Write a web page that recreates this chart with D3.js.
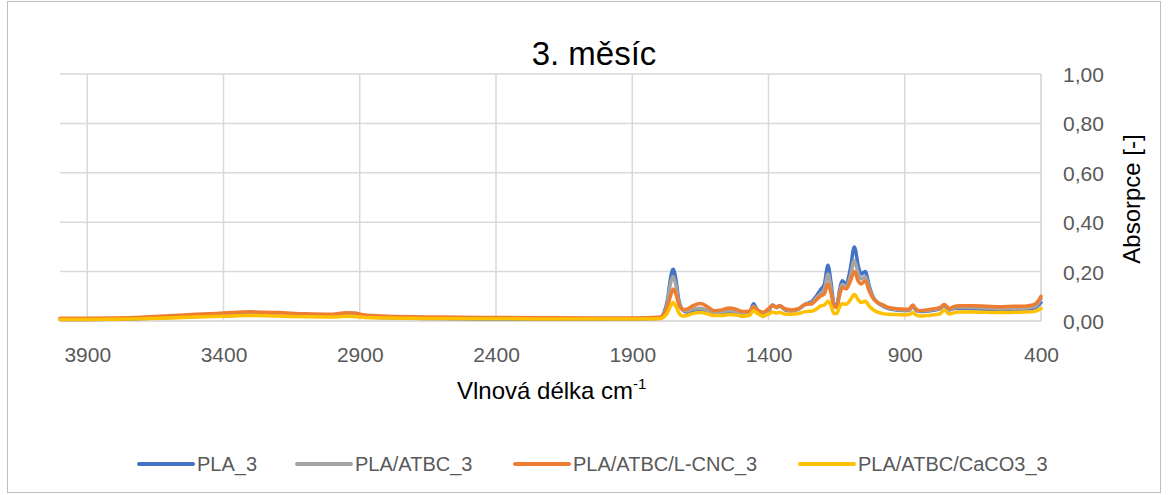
<!DOCTYPE html>
<html>
<head>
<meta charset="utf-8">
<script src="https://cdn.jsdelivr.net/npm/d3@7"></script>
<style>
  html, body { margin: 0; padding: 0; background: #fff; }
  svg { display: block; font-family: "Liberation Sans", Arial, sans-serif; }
</style>
</head>
<body>
<svg id="chart" width="1168" height="495"></svg>
<script>
// Wavenumbers (cm-1), shared by all spectra
const wavenumbers = [
  4000, 3900, 3800, 3700, 3600, 3500, 3400, 3300, 3200, 3100,
  3000, 2950, 2920, 2880, 2850, 2800, 2600, 2400, 2200, 2000,
  1900, 1800, 1785, 1770, 1760, 1750, 1740, 1730, 1715, 1700,
  1680, 1650, 1620, 1600, 1570, 1545, 1520, 1495, 1470, 1455,
  1440, 1420, 1400, 1385, 1370, 1360, 1340, 1315, 1290, 1265,
  1240, 1225, 1210, 1195, 1182, 1170, 1160, 1150, 1140, 1130,
  1115, 1100, 1085, 1070, 1060, 1045, 1030, 1015, 1000, 980,
  960, 930, 900, 885, 870, 860, 845, 820, 790, 770,
  755, 745, 735, 720, 700, 650, 600, 550, 500, 460,
  430, 415, 400
];

// Absorbance of each sample
const pla3 = [
  .006, .006, .007, .010, .014, .018, .021, .024, .023, .020,
  .019, .023, .022, .017, .015, .013, .010, .008, .007, .007,
  .008, .011, .030, .090, .170, .210, .170, .090, .045, .035,
  .038, .042, .035, .028, .030, .035, .030, .020, .030, .070,
  .040, .020, .040, .065, .055, .063, .045, .040, .048, .068,
  .080, .100, .125, .150, .226, .150, .070, .060, .120, .163,
  .150, .210, .300, .220, .190, .200, .140, .095, .075, .060,
  .050, .045, .043, .043, .060, .045, .038, .040, .044, .050,
  .063, .052, .045, .050, .052, .050, .048, .046, .047, .048,
  .050, .058, .075
];
const plaAtbc3 = [
  .008, .008, .009, .012, .017, .022, .026, .029, .027, .023,
  .022, .026, .025, .020, .018, .015, .012, .011, .010, .010,
  .010, .013, .028, .080, .150, .180, .145, .080, .045, .040,
  .048, .052, .042, .033, .036, .043, .038, .030, .034, .060,
  .042, .028, .045, .062, .054, .060, .047, .042, .048, .066,
  .074, .092, .110, .130, .190, .130, .065, .057, .110, .148,
  .140, .180, .245, .190, .170, .180, .130, .092, .075, .062,
  .052, .047, .045, .045, .062, .047, .040, .042, .047, .052,
  .065, .055, .047, .053, .056, .055, .053, .050, .051, .052,
  .056, .065, .090
];
const plaAtbcCnc3 = [
  .011, .011, .012, .015, .021, .027, .032, .037, .034, .029,
  .027, .033, .032, .024, .022, .019, .016, .014, .013, .012,
  .012, .015, .025, .060, .100, .130, .110, .070, .047, .048,
  .060, .071, .055, .042, .045, .053, .048, .038, .040, .057,
  .045, .035, .050, .063, .055, .062, .050, .045, .050, .068,
  .070, .085, .100, .110, .150, .110, .060, .055, .100, .135,
  .130, .160, .200, .160, .150, .163, .120, .090, .075, .065,
  .055, .050, .048, .048, .065, .050, .042, .045, .050, .055,
  .067, .058, .050, .058, .062, .062, .060, .058, .060, .060,
  .065, .075, .100
];
const plaAtbcCaco3 = [
  .006, .006, .007, .009, .012, .016, .019, .022, .020, .017,
  .016, .019, .018, .014, .013, .012, .010, .009, .008, .008,
  .008, .009, .015, .035, .060, .075, .060, .035, .020, .022,
  .030, .034, .028, .022, .022, .026, .024, .020, .022, .042,
  .030, .020, .028, .036, .032, .035, .028, .027, .030, .038,
  .040, .048, .060, .065, .080, .060, .030, .030, .055, .070,
  .068, .085, .107, .085, .075, .080, .060, .045, .036, .030,
  .027, .026, .025, .026, .034, .025, .020, .022, .025, .030,
  .045, .035, .028, .033, .036, .036, .035, .034, .035, .036,
  .038, .042, .050
];

const seriesNames = ["PLA_3", "PLA/ATBC_3", "PLA/ATBC/L-CNC_3", "PLA/ATBC/CaCO3_3"];
const seriesColors = ["#4472C4", "#A5A5A5", "#ED7D31", "#FFC000"];
const xTicks = [3900, 3400, 2900, 2400, 1900, 1400, 900, 400];
const yTicks = [0, 0.2, 0.4, 0.6, 0.8, 1.0];

const seriesValues = [pla3, plaAtbc3, plaAtbcCnc3, plaAtbcCaco3];
const series = seriesNames.map((name, i) => ({
  name,
  color: seriesColors[i],
  points: wavenumbers.map((w, j) => ({ w, v: seriesValues[i][j] }))
}));

const svg = d3.select("#chart");

// chart frame
svg.append("rect")
  .attr("x", 7.5).attr("y", 1.5)
  .attr("width", 1153).attr("height", 491)
  .attr("fill", "#fff").attr("stroke", "#BFBFBF").attr("stroke-width", 1);

const plot = { left: 60, right: 1041, top: 74, bottom: 321 };

const x = d3.scaleLinear().domain([4000, 400]).range([plot.left, plot.right]);
const y = d3.scaleLinear().domain([0, 1]).range([plot.bottom, plot.top]);

// gridlines
const grid = svg.append("g");
grid.selectAll("line.h")
  .data(yTicks.filter(d => d > 0))
  .join("line")
  .attr("x1", plot.left).attr("x2", plot.right)
  .attr("y1", d => y(d)).attr("y2", d => y(d))
  .attr("stroke", "#D9D9D9").attr("stroke-width", 1.5);
grid.selectAll("line.v")
  .data(xTicks.filter(d => d !== 400))
  .join("line")
  .attr("x1", d => x(d)).attr("x2", d => x(d))
  .attr("y1", plot.top).attr("y2", plot.bottom)
  .attr("stroke", "#D9D9D9").attr("stroke-width", 1.5);

// axis lines (x axis at zero, y axis on the right at 400 cm-1)
svg.append("line")
  .attr("x1", plot.left).attr("x2", plot.right)
  .attr("y1", y(0)).attr("y2", y(0))
  .attr("stroke", "#D0D0D0").attr("stroke-width", 1.5);
svg.append("line")
  .attr("x1", x(400)).attr("x2", x(400))
  .attr("y1", plot.top).attr("y2", plot.bottom)
  .attr("stroke", "#D0D0D0").attr("stroke-width", 1.5);

// spectra
const line = d3.line()
  .x(d => x(d.w))
  .y(d => y(d.v))
  .curve(d3.curveMonotoneX);

svg.append("g")
  .selectAll("path")
  .data(series)
  .join("path")
  .attr("d", d => line(d.points))
  .attr("fill", "none")
  .attr("stroke", d => d.color)
  .attr("stroke-width", 3.5)
  .attr("stroke-linejoin", "round")
  .attr("stroke-linecap", "round");

// x axis labels
const xAxis = d3.axisBottom(x)
  .tickValues(xTicks)
  .tickSize(0)
  .tickPadding(26)
  .tickFormat(d3.format("d"));
const gx = svg.append("g")
  .attr("transform", `translate(0,${plot.bottom})`)
  .call(xAxis);
gx.select(".domain").remove();
gx.selectAll("text")
  .attr("font-family", "Liberation Sans, Arial, sans-serif")
  .attr("font-size", 21)
  .attr("fill", "#595959");

// y axis labels on the right
const yAxis = d3.axisRight(y)
  .tickValues(yTicks)
  .tickSize(0)
  .tickPadding(22)
  .tickFormat(d => d3.format(".2f")(d).replace(".", ","));
const gy = svg.append("g")
  .attr("transform", `translate(${plot.right},0)`)
  .call(yAxis);
gy.select(".domain").remove();
gy.selectAll("text")
  .attr("font-family", "Liberation Sans, Arial, sans-serif")
  .attr("font-size", 21)
  .attr("dy", "0.36em")
  .attr("fill", "#595959");

// title
svg.append("text")
  .attr("x", 594).attr("y", 65)
  .attr("text-anchor", "middle")
  .attr("font-size", 33)
  .attr("fill", "#000")
  .text("3. měsíc");

// x axis title with superscript
const xt = svg.append("text")
  .attr("x", 457).attr("y", 399)
  .attr("font-size", 24)
  .attr("fill", "#000");
xt.append("tspan").text("Vlnová délka cm");
xt.append("tspan").attr("font-size", 15).attr("dy", -10).text("-1");

// y axis title
svg.append("text")
  .attr("transform", "translate(1140,199) rotate(-90)")
  .attr("text-anchor", "middle")
  .attr("font-size", 24)
  .attr("fill", "#000")
  .text("Absorpce [-]");

// legend
const legendX = [139, 297, 515, 800];
const legend = svg.append("g")
  .selectAll("g")
  .data(series)
  .join("g")
  .attr("transform", (d, i) => `translate(${legendX[i]},464)`);
legend.append("line")
  .attr("x1", 0).attr("x2", 54)
  .attr("y1", 0).attr("y2", 0)
  .attr("stroke", d => d.color)
  .attr("stroke-width", 4)
  .attr("stroke-linecap", "round");
legend.append("text")
  .attr("x", 58).attr("y", 7)
  .attr("font-size", 20)
  .attr("fill", "#595959")
  .text(d => d.name);
</script>
</body>
</html>
